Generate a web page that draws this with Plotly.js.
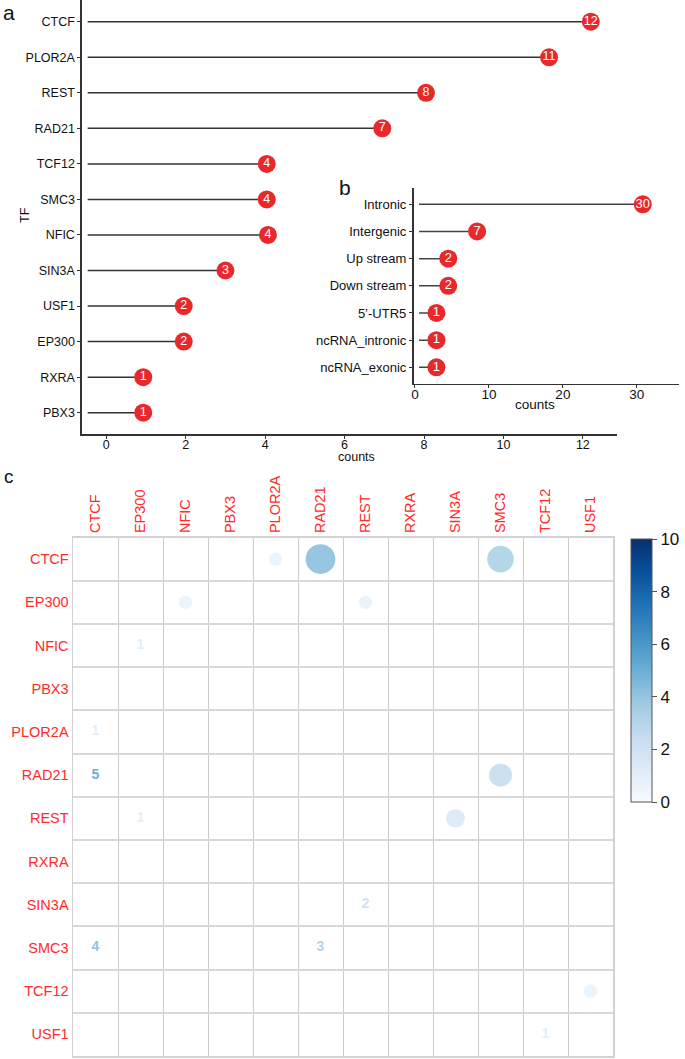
<!DOCTYPE html>
<html>
<head>
<meta charset="utf-8">
<script src="https://cdn.plot.ly/plotly-3.0.1.min.js"></script>
<style>html,body{margin:0;padding:0;background:#fff;}#chart{width:685px;height:1059px;}</style>
</head>
<body>
<div id="chart"></div>
<script>
// ---- Panel a: TF counts ----
const tfNames  = ['CTCF','PLOR2A','REST','RAD21','TCF12','SMC3','NFIC','SIN3A','USF1','EP300','RXRA','PBX3'];
const tfCounts = [12, 11, 8, 7, 4, 4, 4, 3, 2, 2, 1, 1];
const tfPos    = [12.2, 11.15, 8.05, 6.95, 4.04, 4.04, 4.07, 3.0, 1.95, 1.95, 0.93, 0.93];

// ---- Panel b: genomic region counts ----
const regionNames  = ['Intronic','Intergenic','Up stream','Down stream','5\u2019-UTR5','ncRNA_intronic','ncRNA_exonic'];
const regionCounts = [30, 7, 2, 2, 1, 1, 1];
const regionPos    = [30.8, 8.4, 4.5, 4.5, 2.9, 2.9, 2.9];

// ---- Panel c: co-occurrence matrix ----
const matNames = ['CTCF','EP300','NFIC','PBX3','PLOR2A','RAD21','REST','RXRA','SIN3A','SMC3','TCF12','USF1'];
const pairA   = ['CTCF','CTCF','CTCF','EP300','EP300','RAD21','REST','TCF12'];
const pairB   = ['PLOR2A','RAD21','SMC3','NFIC','REST','SMC3','SIN3A','USF1'];
const pairVal = [1, 5, 4, 1, 1, 3, 2, 1];
const cbTicks = [0, 2, 4, 6, 8, 10];

const W = 685, H = 1059;
const px = v => v / W;
const py = v => 1 - v / H;

const blues = [[0,'#f7fbff'],[0.125,'#deebf7'],[0.25,'#c6dbef'],[0.375,'#9ecae1'],[0.5,'#6baed6'],[0.625,'#4292c6'],[0.75,'#2171b5'],[0.875,'#08519c'],[1,'#08306b']];
function hex2rgb(h){return [parseInt(h.slice(1,3),16),parseInt(h.slice(3,5),16),parseInt(h.slice(5,7),16)];}
function scaleColor(v, lo, hi){
  const t = Math.max(0, Math.min(1, (v - lo) / (hi - lo)));
  for (let i = 1; i < blues.length; i++) {
    if (t <= blues[i][0]) {
      const a = blues[i-1], b = blues[i];
      const f = (t - a[0]) / (b[0] - a[0]);
      const ca = hex2rgb(a[1]), cb = hex2rgb(b[1]);
      return 'rgb(' + ca.map((c,k)=>Math.round(c + (cb[k]-c)*f)).join(',') + ')';
    }
  }
  return blues[blues.length-1][1];
}

const RED = '#e8292b';
const FONT = 'Liberation Sans, Arial, sans-serif';

function stems(names, pos, start){
  const xs = [], ys = [];
  names.forEach((n,i)=>{ xs.push(start, pos[i], null); ys.push(n, n, null); });
  return {xs, ys};
}

const sa = stems(tfNames, tfPos, -0.47);
const sb = stems(regionNames, regionPos, 0.55);

const traces = [
  {type:'scatter', mode:'lines', x:sa.xs, y:sa.ys, xaxis:'x', yaxis:'y',
   line:{color:'#333', width:1.5}, hoverinfo:'skip', showlegend:false},
  {type:'scatter', mode:'markers+text', x:tfPos, y:tfNames, xaxis:'x', yaxis:'y',
   marker:{size:18, color:RED}, text:tfCounts.map(String), textposition:'middle center',
   textfont:{color:'#fff', size:12.5, family:FONT}, hoverinfo:'skip', showlegend:false, cliponaxis:false},
  {type:'scatter', mode:'lines', x:sb.xs, y:sb.ys, xaxis:'x2', yaxis:'y2',
   line:{color:'#444', width:1.5}, hoverinfo:'skip', showlegend:false},
  {type:'scatter', mode:'markers+text', x:regionPos, y:regionNames, xaxis:'x2', yaxis:'y2',
   marker:{size:18, color:RED}, text:regionCounts.map(String), textposition:'middle center',
   textfont:{color:'#fff', size:13, family:FONT}, hoverinfo:'skip', showlegend:false, cliponaxis:false},
  // upper triangle circles
  {type:'scatter', mode:'markers', x:pairB, y:pairA, xaxis:'x3', yaxis:'y3',
   marker:{size:pairVal.map(v=>13.3*Math.sqrt(v)), color:pairVal, cmin:0, cmax:10, colorscale:blues,
     line:{width:0}, showscale:true,
     colorbar:{x:px(631), xanchor:'left', xpad:0, y:py(539), yanchor:'top', ypad:0,
       lenmode:'pixels', len:263, thickness:21, thicknessmode:'pixels',
       outlinecolor:'#555', outlinewidth:1, ticks:'outside', ticklen:5, tickcolor:'#555',
       tickvals:cbTicks, ticktext:cbTicks.map(String), tickfont:{size:17, color:'#111', family:FONT}}},
   hoverinfo:'skip', showlegend:false},
  // lower triangle numbers
  {type:'scatter', mode:'text', x:pairA, y:pairB, xaxis:'x3', yaxis:'y3',
   text:pairVal.map(String), textposition:'middle center',
   textfont:{size:14, family:FONT, weight:'bold', color:pairVal.map(v=>scaleColor(v,0,10))},
   hoverinfo:'skip', showlegend:false}
];

const axLine = {showline:true, linecolor:'#333', linewidth:1.6, zeroline:false, showgrid:false,
  ticks:'outside', ticklen:3, tickcolor:'#333', tickwidth:1};

const layout = {
  width:W, height:H, margin:{l:0,r:0,t:0,b:0}, paper_bgcolor:'#fff', plot_bgcolor:'rgba(0,0,0,0)',
  font:{family:FONT, color:'#111'}, showlegend:false,
  xaxis: Object.assign({}, axLine, {domain:[px(82), px(617)], range:[-0.612, 12.86], anchor:'y',
    tickvals:[0,2,4,6,8,10,12], ticklabelstandoff:-5, tickfont:{size:12.5, color:'#111'}}),
  yaxis: Object.assign({}, axLine, {domain:[py(434), py(0.4)], type:'category', categoryorder:'array',
    categoryarray:tfNames, range:[11.6, -0.6], anchor:'x', tickfont:{size:12.5, color:'#111'}}),
  xaxis2: Object.assign({}, axLine, {domain:[px(413.5), px(679)], range:[-0.2, 35.7], anchor:'y2',
    tickvals:[0,10,20,30], ticklabelstandoff:-5, tickfont:{size:13.5, color:'#111'}}),
  yaxis2: Object.assign({}, axLine, {domain:[py(383.6), py(188)], type:'category', categoryorder:'array',
    categoryarray:regionNames, range:[6.6, -0.6], anchor:'x2', tickfont:{size:13, color:'#111'}}),
  xaxis3: {domain:[px(73), px(613)], type:'category', categoryorder:'array', categoryarray:matNames,
    range:[-0.5, 11.5], anchor:'y3', side:'top', tickson:'boundaries', showgrid:true, gridcolor:'#cbcbcb', gridwidth:1,
    showline:true, mirror:true, linecolor:'#d2d2d2', linewidth:1.5, zeroline:false,
    ticks:'outside', ticklen:14, tickcolor:'rgba(0,0,0,0)', tickangle:-90,
    tickfont:{size:14.5, color:'#ff2a2a'}},
  yaxis3: {domain:[py(1056), py(537.5)], type:'category', categoryorder:'array', categoryarray:matNames,
    range:[11.5, -0.5], anchor:'x3', tickson:'boundaries', showgrid:true, gridcolor:'#d8d8d8', gridwidth:2,
    showline:true, mirror:true, linecolor:'#d2d2d2', linewidth:1.5, zeroline:false,
    ticks:'outside', ticklen:3, tickcolor:'rgba(0,0,0,0)',
    tickfont:{size:14.5, color:'#ff2a2a'}},
  annotations:[
    {text:'a', xref:'paper', yref:'paper', x:px(1), y:py(13), xanchor:'left', yanchor:'middle', showarrow:false, font:{size:21, color:'#111'}},
    {text:'TF', xref:'paper', yref:'paper', x:px(25), y:py(215), xanchor:'center', yanchor:'middle', textangle:-90, showarrow:false, font:{size:12.5, color:'#111'}},
    {text:'counts', xref:'paper', yref:'paper', x:px(356), y:py(457), xanchor:'center', yanchor:'middle', showarrow:false, font:{size:12.5, color:'#111'}},
    {text:'b', xref:'paper', yref:'paper', x:px(345), y:py(188), xanchor:'center', yanchor:'middle', showarrow:false, font:{size:21, color:'#111'}},
    {text:'counts', xref:'paper', yref:'paper', x:px(535), y:py(404), xanchor:'center', yanchor:'middle', showarrow:false, font:{size:13.5, color:'#111'}},
    {text:'c', xref:'paper', yref:'paper', x:px(9), y:py(476), xanchor:'center', yanchor:'middle', showarrow:false, font:{size:19, color:'#111'}}
  ]
};

Plotly.newPlot('chart', traces, layout, {staticPlot:true, displayModeBar:false});
</script>
</body>
</html>
